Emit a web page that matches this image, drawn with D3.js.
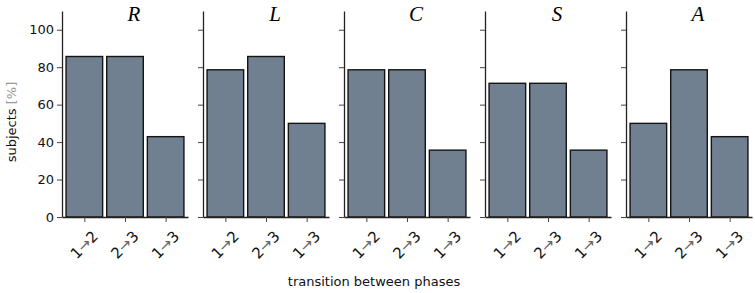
<!DOCTYPE html>
<html>
<head>
<meta charset="utf-8">
<script src="https://cdn.jsdelivr.net/npm/d3@7"></script>
<style>
  body { margin: 0; background: #fff; }
  svg { display: block; }
</style>
</head>
<body>
<svg id="chart" width="755" height="293"></svg>
<script>
// DATA
const panels = ["R", "L", "C", "S", "A"]
const transitions = [["1", "2"], ["2", "3"], ["1", "3"]]
const valuesR = [85.7, 85.7, 42.9]
const valuesL = [78.6, 85.7, 50.0]
const valuesC = [78.6, 78.6, 35.7]
const valuesS = [71.4, 71.4, 35.7]
const valuesA = [50.0, 78.6, 42.9]
const yTicks = [0, 20, 40, 60, 80, 100]

const series = [valuesR, valuesL, valuesC, valuesS, valuesA]

let svg = d3.select('#chart')

let margins = {top: 11, bottom: 76, left: 62, right: 3}
let panelWidth = 126
let panelStep = 141
let svgHeight = 293 - margins.top - margins.bottom

// Y SETUP (shared)
let y = d3.scaleLinear()
    .domain([0, 110])
    .range([svgHeight, 0])

// X SETUP, xlim -0.55..2.55, bars 0.9 wide
let x = d3.scaleLinear()
    .domain([-0.55, 2.55])
    .range([0, panelWidth])

panels.forEach((name, i) => {

    let g = svg.append('g')
        .attr('transform', `translate(${margins.left + i * panelStep},${margins.top})`)

    // BARS
    g.selectAll('rect')
        .data(series[i])
        .join('rect')
            .attr('x', (d, j) => x(j - 0.45))
            .attr('y', d => y(d))
            .attr('width', x(0.45) - x(-0.45))
            .attr('height', d => svgHeight - y(d))
            .attr('fill', '#708090')
            .attr('stroke', '#141414')
            .attr('stroke-width', 1.4)

    // Y AXIS
    let yAxis = g.append('g')
        .call(d3.axisLeft(y).tickValues(yTicks).tickSize(5).tickSizeOuter(0)
            .tickFormat(i === 0 ? d3.format('d') : ''))
    yAxis.select('.domain').attr('stroke', '#222').attr('stroke-width', 1.3)
    yAxis.selectAll('.tick line').attr('stroke', '#444')
    yAxis.selectAll('text')
        .attr('font-family', 'DejaVu Sans')
        .attr('font-size', 13)
        .attr('fill', '#111')
        .attr('x', -8)

    // X AXIS
    let xAxis = g.append('g')
        .attr('transform', `translate(0,${svgHeight})`)
        .call(d3.axisBottom(x).tickValues([0, 1, 2]).tickSize(5).tickSizeOuter(0).tickFormat(''))
    xAxis.select('.domain').attr('stroke', '#222').attr('stroke-width', 1.3)
    xAxis.selectAll('.tick line').attr('stroke', '#444')

    // X TICK LABELS, rotated
    transitions.forEach((t, j) => {
        let label = g.append('text')
            .attr('transform', `translate(${x(j)},${svgHeight + 28}) rotate(-45)`)
            .attr('text-anchor', 'middle')
            .attr('dominant-baseline', 'central')
            .attr('font-family', 'DejaVu Sans')
            .attr('font-size', 15)
            .attr('fill', '#111')
        label.append('tspan').text(t[0])
        label.append('tspan').attr('fill', '#666').attr('font-size', 15).text('→')
        label.append('tspan').text(t[1])
    })

    // PANEL TITLE
    g.append('text')
        .attr('x', panelWidth / 2 + 9)
        .attr('y', 10)
        .attr('text-anchor', 'middle')
        .attr('font-family', 'Liberation Serif')
        .attr('font-style', 'italic')
        .attr('font-size', 21)
        .attr('fill', '#000')
        .text(name)
})

// Y AXIS LABEL
let yLabel = svg.append('text')
    .attr('transform', 'translate(16,122) rotate(-90)')
    .attr('text-anchor', 'middle')
    .attr('font-family', 'DejaVu Sans')
    .attr('font-size', 13)
    .attr('fill', '#111')
yLabel.append('tspan').text('subjects ')
yLabel.append('tspan').attr('fill', '#999').text('[%]')

// X AXIS LABEL
svg.append('text')
    .attr('x', 374)
    .attr('y', 286)
    .attr('text-anchor', 'middle')
    .attr('font-family', 'DejaVu Sans')
    .attr('font-size', 13)
    .attr('fill', '#111')
    .text('transition between phases')
</script>
</body>
</html>
